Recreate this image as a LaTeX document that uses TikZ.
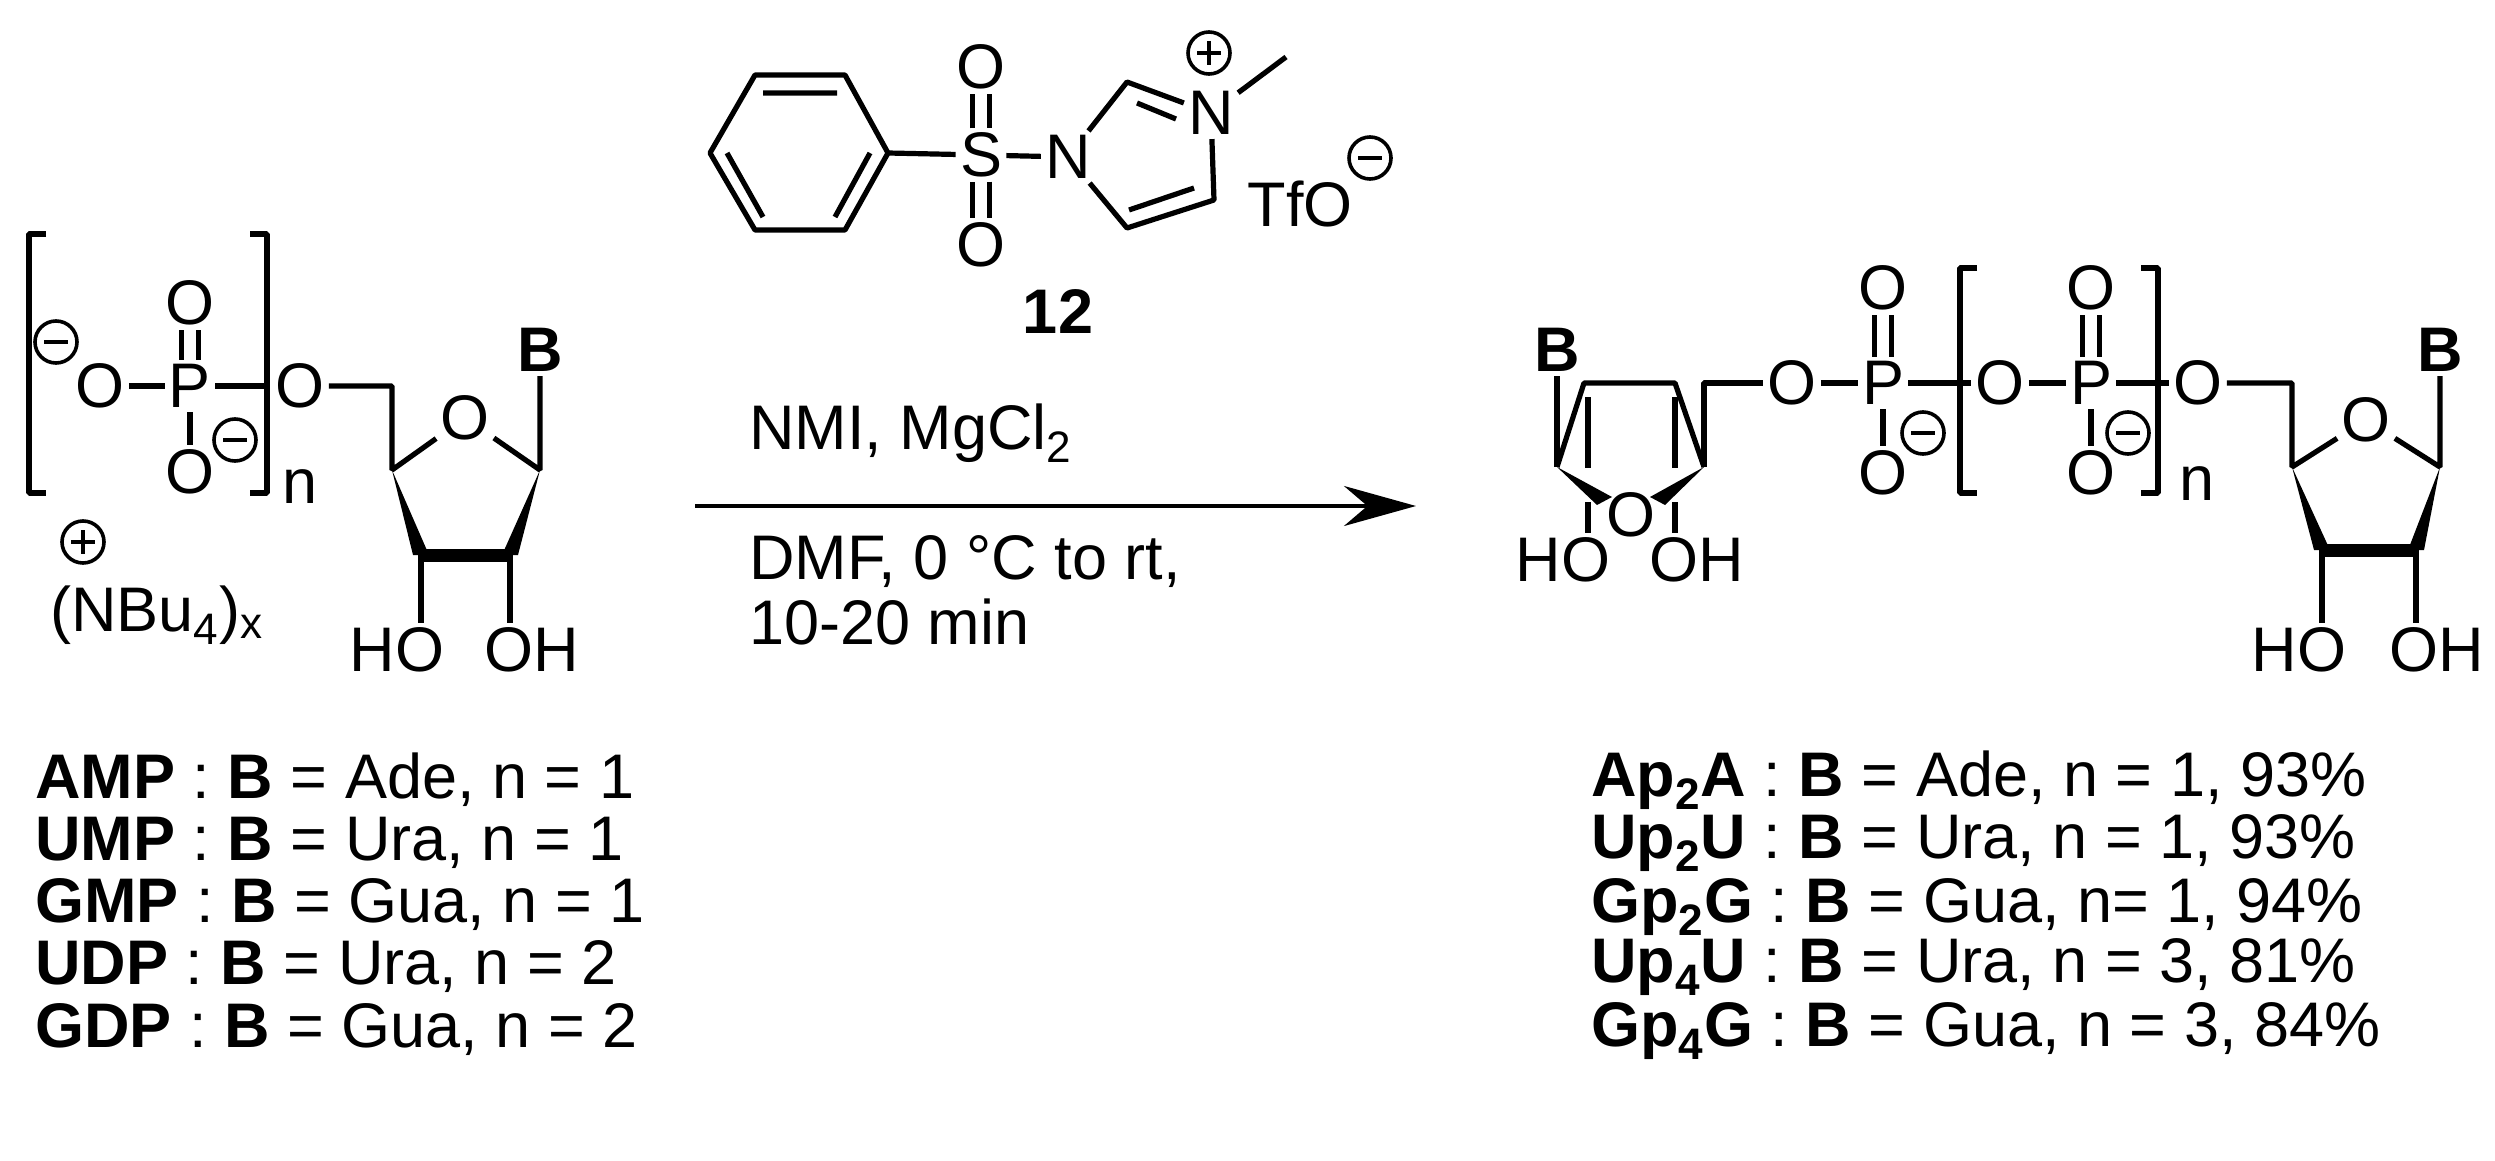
\documentclass[tikz,border=0pt]{standalone}
\usepackage{fontspec}
\setmainfont{Liberation Sans}
\usetikzlibrary{arrows.meta,calc}
\tikzset{
  bond/.style={line width=2.6pt},
  dbl/.style={line width=2.6pt, double=white, double distance=6pt},
  atom/.style={inner sep=2pt, font=\fontsize{31.5}{36}\selectfont},
  lbl/.style={anchor=west, inner sep=0pt, font=\fontsize{31.5}{36}\selectfont},
  minus/.pic={\draw[line width=1.8pt] (0,0) circle (21); \draw[line width=2.2pt] (-12,0) -- (12,0);},
  plus/.pic={\draw[line width=1.8pt] (0,0) circle (21); \draw[line width=2.2pt] (-12,0) -- (12,0) (0,-12) -- (0,12);},
}
\begin{document}
\begin{tikzpicture}[x=0.5pt,y=-0.5pt,line join=bevel]
\useasboundingbox (0,0) rectangle (2495,1161);
%% Starting nucleotide
  % Node: phosphate
  \node[atom] (Oa) at (100,386) {O};
  \node[atom] (Pa) at (190,386) {P};
  \node[atom] (Oa1) at (190,303) {O};
  \node[atom] (Oa2) at (190,472) {O};
  \node[atom] (Ob) at (300,386) {O};
  \coordinate (Bra) at (267,386);
  \draw[bond] (Oa) -- (Pa);
  \draw[dbl] (Pa) -- (Oa1);
  \draw[bond] (Pa) -- (Oa2);
  \draw[bond] (Pa) -- (Bra);
  \draw[bond] (46,234) -- (29,234) -- (29,493) -- (46,493);
  \draw[bond] (250,234) -- (267,234) -- (267,493) -- (250,493);
  \node[atom] (na) at (300,487) {n};
  \pic at (56,342) {minus};
  \pic at (235,440) {minus};
  \pic at (83,542) {plus};
  \node[atom] (cat) at (157,615) {(NBu\textsubscript{4})\textsubscript{x}};
  % Node: ribose
  \coordinate (Ca5) at (392,386);
  \coordinate (Ca4) at (392,470);
  \node[atom] (Oar) at (465,418) {O};
  \coordinate (Ca1) at (540,470);
  \coordinate (Ca2) at (510,555);
  \coordinate (Ca3) at (421,555);
  \node[atom] (Ba) at (540,350) {\textbf{B}};
  \node[atom] (HOa) at (397,650) {HO};
  \node[atom] (OHa) at (532,650) {OH};
  \draw[bond] (Ob) -- (Ca5) -- (Ca4) -- (Oar) -- (Ca1) -- (Ba);
  \fill (Ca4) -- ($(Ca3)+(-8,0)$) -- ($(Ca3)+(8,0)$) -- cycle;
  \fill (Ca1) -- ($(Ca2)+(8,0)$) -- ($(Ca2)+(-8,0)$) -- cycle;
  \draw[line width=6.5pt] (Ca3) -- (Ca2);
  \draw[bond] (Ca3) -- (Ca3 |- HOa.north);
  \draw[bond] (Ca2) -- (Ca2 |- OHa.north);
%% Reagent 12
  \coordinate (b1) at (755,75);
  \coordinate (b2) at (845,75);
  \coordinate (b3) at (888,153);
  \coordinate (b4) at (845,230);
  \coordinate (b5) at (755,230);
  \coordinate (b6) at (710,153);
  \draw[bond] (b1) -- (b2) -- (b3) -- (b4) -- (b5) -- (b6) -- cycle;
  \draw[bond] (763,93) -- (837,93) (727,153) -- (763,217) (870,153) -- (835,217);
  \node[atom] (S) at (981,155) {S};
  \node[atom] (So1) at (981,67) {O};
  \node[atom] (So2) at (981,245) {O};
  \draw[bond] (b3) -- (S);
  \draw[dbl] (S) -- (So1);
  \draw[dbl] (S) -- (So2);
  \node[atom] (N1) at (1068,157) {N};
  \coordinate (Ci2) at (1127,82);
  \node[atom] (N3) at (1211,113) {N};
  \coordinate (Ci4) at (1214,200);
  \coordinate (Ci5) at (1127,228);
  \coordinate (Me) at (1286,57);
  \draw[bond] (S) -- (N1);
  \draw[bond] (N1) -- (Ci2) -- (N3) -- (Ci4) -- (Ci5) -- (N1);
  \draw[bond] (1137,103) -- (1176,119) (1194,188) -- (1129,210);
  \draw[bond] (N3) -- (Me);
  \pic at (1209,53) {plus};
  \node[atom] (TfO) at (1300,204) {TfO};
  \pic at (1370,158) {minus};
  \node[atom] (n12) at (1058,312) {\textbf{12}};
%% Arrow and conditions
  \coordinate (Ar1) at (695,506);
  \coordinate (Ar2) at (1416,506);
  \draw[line width=2pt, -{Stealth[length=36pt,width=20pt]}] (Ar1) -- (Ar2);
  \node[lbl] (c1) at (749,433) {NMI, MgCl\textsubscript{2}};
  \node[lbl] (c2) at (749,562) {DMF, 0 °C to rt,};
  \node[lbl] (c3) at (749,622) {10-20 min};
%% Product
  % Node: left sugar
  \node[atom] (Bb) at (1557,350) {\textbf{B}};
  \node[atom] (Orb) at (1631,515) {O};
  \node[atom] (HOb) at (1563,560) {HO};
  \node[atom] (OHb) at (1697,560) {OH};
  \coordinate (Cb1) at (1557,467);
  \coordinate (Cb4) at (1704,467);
  \coordinate (Cb5) at (1704,383);
  \draw[bond] (Bb) -- (Cb1);
  \draw[bond] (1557,467) -- (1584,383) -- (1675,383) -- (1704,467);
  \draw[bond] (1588,397) -- (1588,468) (1675,397) -- (1675,468);
  \fill (Cb1) -- (1612,497) -- (1597,505) -- cycle;
  \fill (Cb4) -- (1650,497) -- (1665,505) -- cycle;
  \draw[bond] (1588,502) -- (1588,0 |- HOb.north);
  \draw[bond] (1675,502) -- (1675,0 |- OHb.north);
  \node[atom] (Oc) at (1792,383) {O};
  \draw[bond] (Cb4) -- (Cb5) -- (Oc);
  % Node: phosphates
  \node[atom] (Pb) at (1883,383) {P};
  \node[atom] (Pb1) at (1883,288) {O};
  \node[atom] (Pb2) at (1883,473) {O};
  \node[atom] (Od) at (2000,383) {O};
  \node[atom] (Pc) at (2091,383) {P};
  \node[atom] (Pc1) at (2091,288) {O};
  \node[atom] (Pc2) at (2091,473) {O};
  \node[atom] (Oe) at (2198,383) {O};
  \draw[bond] (Oc) -- (Pb) -- (Od) -- (Pc) -- (Oe);
  \draw[dbl] (Pb) -- (Pb1);
  \draw[dbl] (Pc) -- (Pc1);
  \draw[bond] (Pb) -- (Pb2);
  \draw[bond] (Pc) -- (Pc2);
  \pic at (1923,433) {minus};
  \pic at (2128,433) {minus};
  \draw[bond] (1977,268) -- (1960,268) -- (1960,493) -- (1977,493);
  \draw[bond] (2141,268) -- (2158,268) -- (2158,493) -- (2141,493);
  \node[atom] (nb) at (2197,484) {n};
  % Node: right sugar
  \coordinate (Cc5) at (2292,383);
  \coordinate (Cc4) at (2292,467);
  \node[atom] (Orc) at (2366,420) {O};
  \coordinate (Cc1) at (2440,467);
  \coordinate (Cc2) at (2416,550);
  \coordinate (Cc3) at (2322,550);
  \node[atom] (Bc) at (2440,350) {\textbf{B}};
  \node[atom] (HOc) at (2299,650) {HO};
  \node[atom] (OHc) at (2437,650) {OH};
  \draw[bond] (Oe) -- (Cc5) -- (Cc4) -- (Orc) -- (Cc1) -- (Bc);
  \fill (Cc4) -- ($(Cc3)+(-8,0)$) -- ($(Cc3)+(8,0)$) -- cycle;
  \fill (Cc1) -- ($(Cc2)+(8,0)$) -- ($(Cc2)+(-8,0)$) -- cycle;
  \draw[line width=6.5pt] (Cc3) -- (Cc2);
  \draw[bond] (Cc3) -- (Cc3 |- HOc.north);
  \draw[bond] (Cc2) -- (Cc2 |- OHc.north);
%% Labels
  \node[lbl] (l1) at (35,780) {\textbf{AMP} : \textbf{B} = Ade, n = 1};
  \node[lbl] (l2) at (35,843) {\textbf{UMP} : \textbf{B} = Ura, n = 1};
  \node[lbl] (l3) at (35,905) {\textbf{GMP} : \textbf{B} = Gua, n = 1};
  \node[lbl] (l4) at (35,967) {\textbf{UDP} : \textbf{B} = Ura, n = 2};
  \node[lbl] (l5) at (35,1030) {\textbf{GDP} : \textbf{B} = Gua, n = 2};
  \node[lbl] (r1) at (1591,780) {\textbf{Ap\textsubscript{2}A} : \textbf{B} = Ade, n = 1, 93\%};
  \node[lbl] (r2) at (1591,843) {\textbf{Up\textsubscript{2}U} : \textbf{B} = Ura, n = 1, 93\%};
  \node[lbl] (r3) at (1591,907) {\textbf{Gp\textsubscript{2}G} : \textbf{B} = Gua, n= 1, 94\%};
  \node[lbl] (r4) at (1591,967) {\textbf{Up\textsubscript{4}U} : \textbf{B} = Ura, n = 3, 81\%};
  \node[lbl] (r5) at (1591,1031) {\textbf{Gp\textsubscript{4}G} : \textbf{B} = Gua, n = 3, 84\%};
\end{tikzpicture}
\end{document}
